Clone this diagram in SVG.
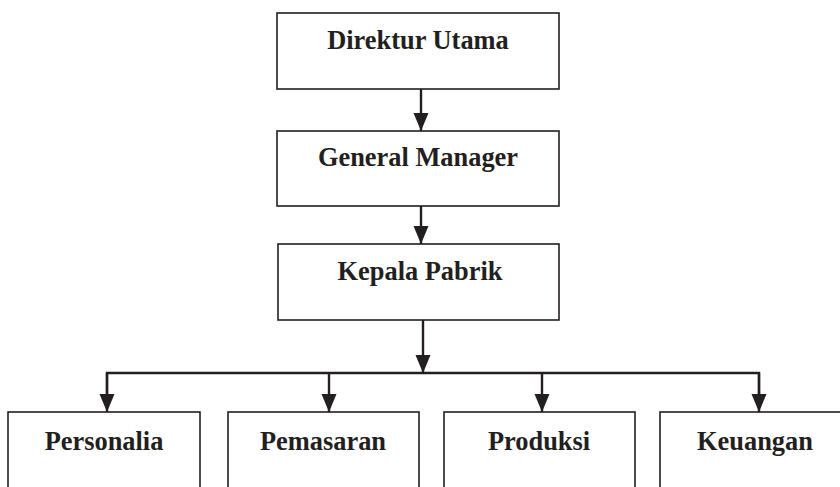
<svg xmlns="http://www.w3.org/2000/svg" width="840" height="487" viewBox="0 0 840 487">
<style>
.box{fill:#fff;stroke:#231f20;stroke-width:1.6}
.lbl{font-family:"Liberation Serif","Times New Roman",serif;font-weight:bold;font-size:26.4px;fill:#231f20;text-anchor:middle}
.con{fill:none;stroke:#231f20;stroke-width:2.4}
</style>
<defs>
<marker id="ah" markerUnits="userSpaceOnUse" markerWidth="18" markerHeight="16" refX="18" refY="7.5" orient="auto" viewBox="0 0 18 15">
<path d="M0,0 L18,7.5 L0,15 z" fill="#231f20"/>
</marker>
</defs>
<rect width="840" height="487" fill="#fff"/>
<g id="connectors">
<line class="con" x1="421" y1="89" x2="421" y2="131" marker-end="url(#ah)"/>
<line class="con" x1="421" y1="206" x2="421" y2="244" marker-end="url(#ah)"/>
<line class="con" x1="423" y1="320" x2="423" y2="373" marker-end="url(#ah)"/>
<polyline class="con" points="107,395 107,373 759,373 759,395"/>
<line class="con" x1="107" y1="373" x2="107" y2="412" marker-end="url(#ah)"/>
<line class="con" x1="329" y1="373" x2="329" y2="412" marker-end="url(#ah)"/>
<line class="con" x1="542" y1="373" x2="542" y2="412" marker-end="url(#ah)"/>
<line class="con" x1="759" y1="373" x2="759" y2="412" marker-end="url(#ah)"/>
</g>
<g id="direktur"><rect class="box" x="277" y="13" width="282" height="76"/><text class="lbl" x="418" y="49">Direktur Utama</text></g>
<g id="gm"><rect class="box" x="277" y="131" width="282" height="75"/><text class="lbl" x="418" y="166">General Manager</text></g>
<g id="kepala"><rect class="box" x="278" y="244" width="281" height="76"/><text class="lbl" x="420" y="280">Kepala Pabrik</text></g>
<g id="personalia"><rect class="box" x="8" y="412" width="192" height="90"/><text class="lbl" x="104" y="450">Personalia</text></g>
<g id="pemasaran"><rect class="box" x="228" y="412" width="191" height="90"/><text class="lbl" x="323" y="450">Pemasaran</text></g>
<g id="produksi"><rect class="box" x="444" y="412" width="191" height="90"/><text class="lbl" x="539" y="450">Produksi</text></g>
<g id="keuangan"><rect class="box" x="660" y="412" width="192" height="90"/><text class="lbl" x="755" y="450">Keuangan</text></g>
</svg>
